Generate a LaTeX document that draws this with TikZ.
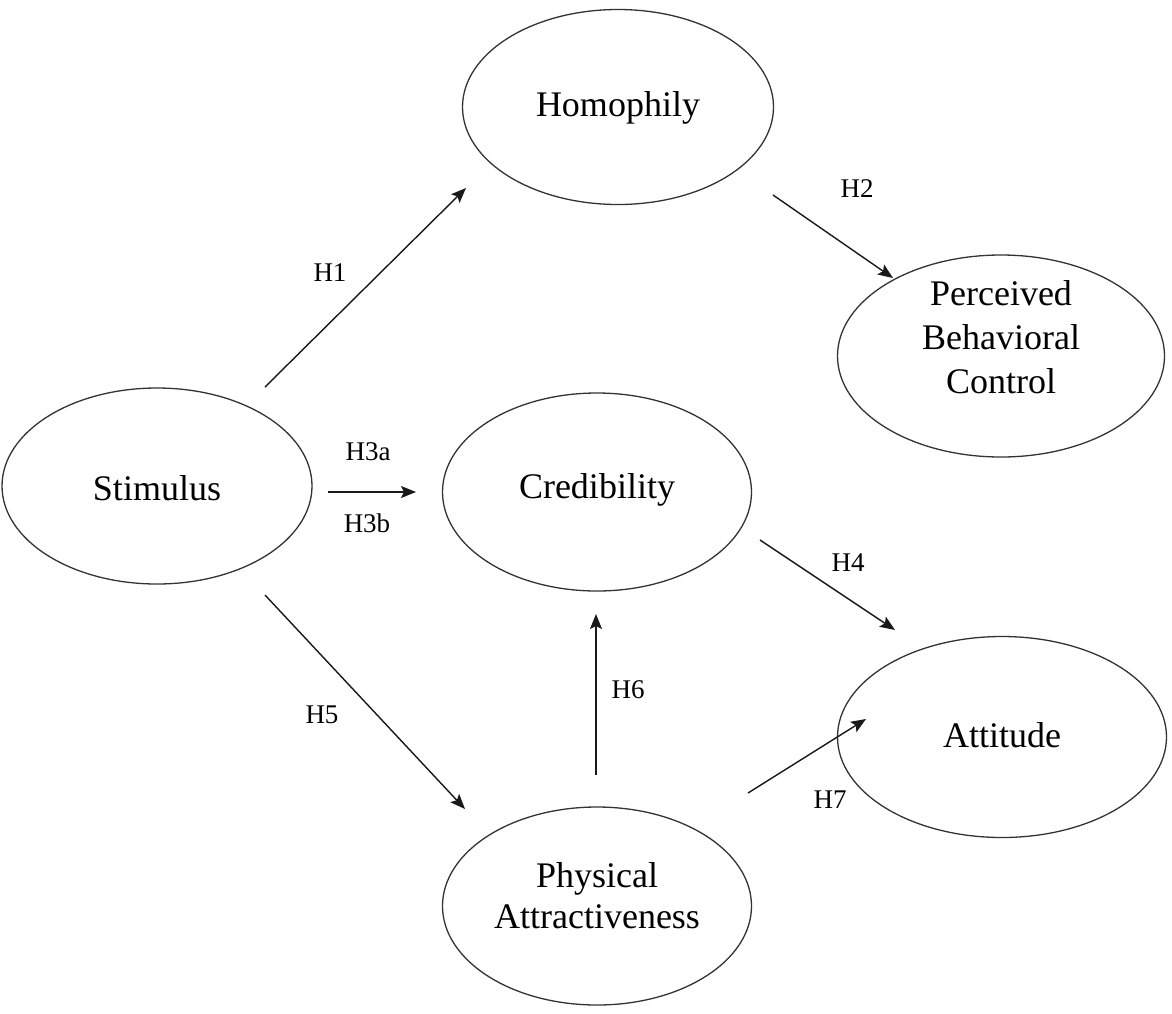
\documentclass[tikz,border=0pt]{standalone}
\usepackage{fontspec}
\setmainfont{Liberation Serif}
\usetikzlibrary{shapes.geometric,arrows.meta}
\begin{document}
\begin{tikzpicture}[x=1pt,y=-1pt,
  ell/.style={draw=black!80,line width=1.3pt,ellipse,inner sep=0pt},
  txt/.style={inner sep=0pt,align=center,font=\fontsize{36}{44}\selectfont},
  arr/.style={draw=black!90,line width=1.4pt,-{Stealth[length=15pt,width=12pt,inset=3pt]}},
  lab/.style={font=\fontsize{27}{30}\selectfont,inner sep=0pt}]
\useasboundingbox[fill=white] (0,0) rectangle (1172,1013);
\node[ell,minimum width=311pt,minimum height=195pt] (homo) at (618,107) {};
\node[ell,minimum width=327pt,minimum height=202pt] (pbc) at (1001,356) {};
\node[ell,minimum width=310pt,minimum height=196pt] (stim) at (157,486) {};
\node[ell,minimum width=309pt,minimum height=198pt] (cred) at (597,492) {};
\node[ell,minimum width=329pt,minimum height=201pt] (att) at (1002,737) {};
\node[ell,minimum width=309pt,minimum height=198pt] (phys) at (597,906) {};
\node[txt] (homot) at (618,108) {Homophily};
\node[txt] (pbct) at (1001,337) {Perceived\\Behavioral\\Control};
\node[txt] (stimt) at (157,488) {Stimulus};
\node[txt] (credt) at (597,490) {Credibility};
\node[txt] (attt) at (1002,735) {Attitude};
\node[txt,font=\fontsize{36}{41}\selectfont] (physt) at (597,896) {Physical\\Attractiveness};
\coordinate (h1s) at (265,387); \coordinate (h1e) at (466,188);
\coordinate (h2s) at (773,195); \coordinate (h2e) at (893,278);
\coordinate (h3s) at (328,492); \coordinate (h3e) at (416,492);
\coordinate (h4s) at (760,540); \coordinate (h4e) at (895,630);
\coordinate (h5s) at (265,595); \coordinate (h5e) at (465,809);
\coordinate (h6s) at (596,775); \coordinate (h6e) at (596,614);
\coordinate (h7s) at (748,793); \coordinate (h7e) at (866,719);
\draw[arr] (h1s) -- (h1e);
\draw[arr] (h2s) -- (h2e);
\draw[arr] (h3s) -- (h3e);
\draw[arr] (h4s) -- (h4e);
\draw[arr] (h5s) -- (h5e);
\draw[arr] (h6s) -- (h6e);
\draw[arr] (h7s) -- (h7e);
\node[lab] (l1) at (330,273) {H1};
\node[lab] (l2) at (857,189) {H2};
\node[lab] (l3a) at (368,452) {H3a};
\node[lab] (l3b) at (367,523) {H3b};
\node[lab] (l4) at (848,563) {H4};
\node[lab] (l5) at (322,715) {H5};
\node[lab] (l6) at (628,690) {H6};
\node[lab] (l7) at (830,800) {H7};
\end{tikzpicture}
\end{document}
